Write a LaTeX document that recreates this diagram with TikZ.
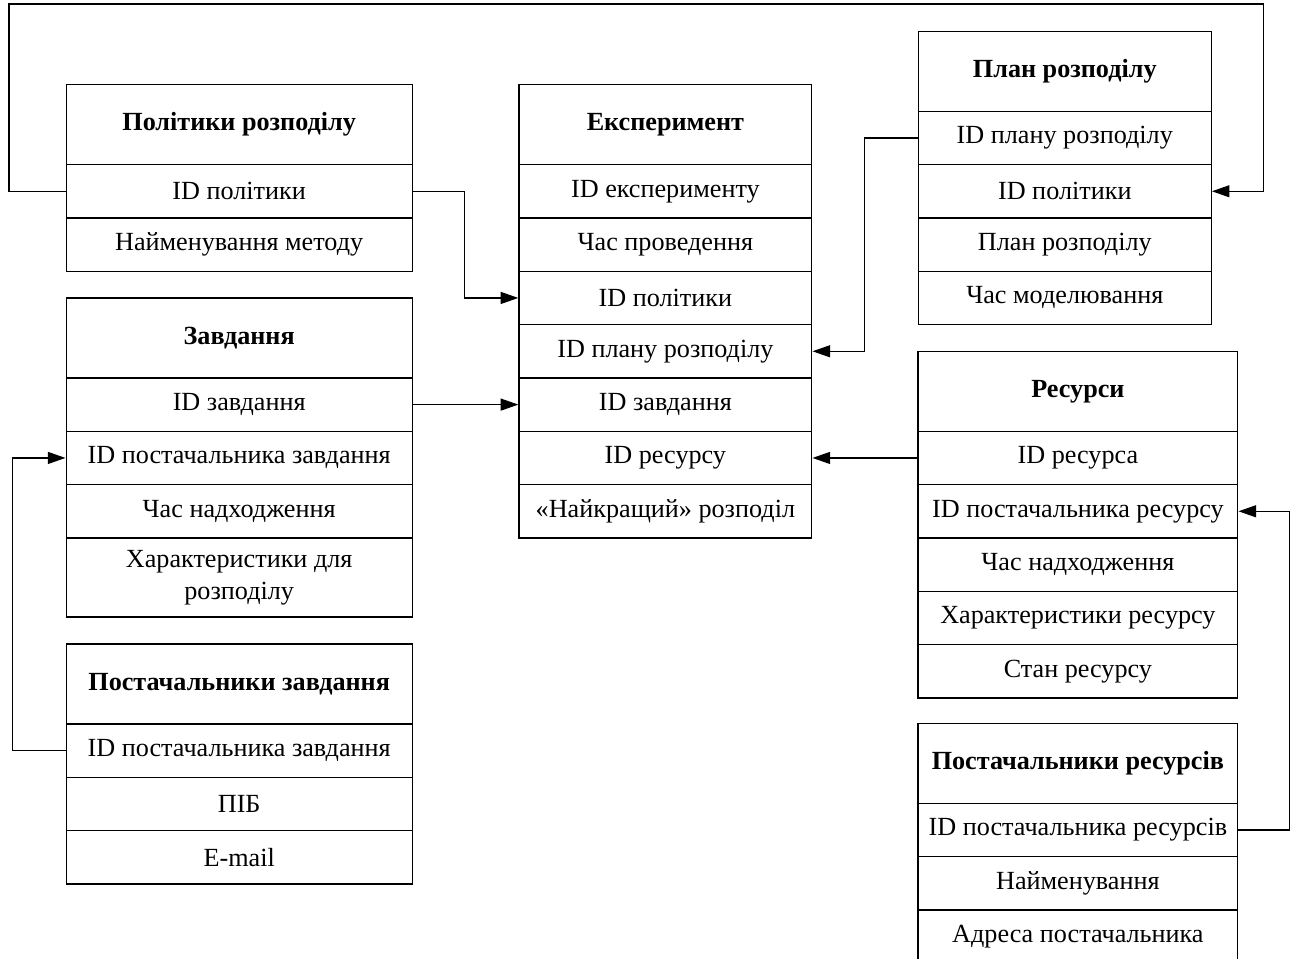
\documentclass[tikz,border=0pt]{standalone}
\usepackage{fontspec}
\setmainfont{Liberation Serif}
\usetikzlibrary{arrows.meta}
\begin{document}
\begin{tikzpicture}[x=0.02cm,y=-0.02cm]
\tikzset{
  cell/.style={draw, line width=0.7pt, anchor=north west, inner sep=0pt,
    align=center, font=\fontsize{14.9}{18.2}\selectfont},
  hd/.style={cell, font=\bfseries\fontsize{14.9}{18.2}\selectfont, minimum height=1.6cm},
  rw/.style={cell, minimum height=1.0667cm},
  rw2/.style={cell, minimum height=1.58cm},
  wide/.style={minimum width=6.924cm},
  mid/.style={minimum width=5.86cm},
  res/.style={minimum width=6.4cm},
  link/.style={line width=0.7pt, -{Triangle[length=10pt,width=6.8pt]}}
}
\useasboundingbox (0,0) rectangle (1290,959);
\clip (0,0) rectangle (1290,959);

% Політики розподілу
\node[hd,wide] (pol0) at (65.5,84) {Політики розподілу};
\node[rw,wide] (pol1) at (65.5,164) {ID політики};
\node[rw,wide] (pol2) at (65.5,217.33) {Найменування методу};

% Експеримент
\node[hd,mid] (e0) at (518.3,84) {Експеримент};
\node[rw,mid] (e1) at (518.3,164) {ID експерименту};
\node[rw,mid] (e2) at (518.3,217.33) {Час проведення};
\node[rw,mid] (e3) at (518.3,270.67) {ID політики};
\node[rw,mid] (e4) at (518.3,324) {ID плану розподілу};
\node[rw,mid] (e5) at (518.3,377.33) {ID завдання};
\node[rw,mid] (e6) at (518.3,430.67) {ID ресурсу};
\node[rw,mid] (e7) at (518.3,484) {«Найкращий» розподіл};

% План розподілу
\node[hd,mid] (pl0) at (917.7,30.7) {План розподілу};
\node[rw,mid] (pl1) at (917.7,110.7) {ID плану розподілу};
\node[rw,mid] (pl2) at (917.7,164) {ID політики};
\node[rw,mid] (pl3) at (917.7,217.33) {План розподілу};
\node[rw,mid] (pl4) at (917.7,270.67) {Час моделювання};

% Завдання
\node[hd,wide] (z0) at (65.5,297.33) {Завдання};
\node[rw,wide] (z1) at (65.5,377.33) {ID завдання};
\node[rw,wide] (z2) at (65.5,430.67) {ID постачальника завдання};
\node[rw,wide] (z3) at (65.5,484) {Час надходження};
\node[rw2,wide] (z4) at (65.5,537.33) {Характеристики для\\розподілу};

% Постачальники завдання
\node[hd,wide] (pz0) at (65.5,643.3) {Постачальники завдання};
\node[rw,wide] (pz1) at (65.5,723.3) {ID постачальника завдання};
\node[rw,wide] (pz2) at (65.5,776.63) {ПІБ};
\node[rw,wide] (pz3) at (65.5,829.97) {E-mail};

% Ресурси
\node[hd,res] (r0) at (917.3,350.67) {Ресурси};
\node[rw,res] (r1) at (917.3,430.67) {ID ресурса};
\node[rw,res] (r2) at (917.3,484) {ID постачальника ресурсу};
\node[rw,res] (r3) at (917.3,537.33) {Час надходження};
\node[rw,res] (r4) at (917.3,590.67) {Характеристики ресурсу};
\node[rw,res] (r5) at (917.3,644) {Стан ресурсу};

% Постачальники ресурсів
\node[hd,res] (pr0) at (917.3,722.7) {Постачальники ресурсів};
\node[rw,res] (pr1) at (917.3,802.7) {ID постачальника ресурсів};
\node[rw,res] (pr2) at (917.3,856.03) {Найменування};
\node[rw,res] (pr3) at (917.3,909.37) {Адреса постачальника};

% bend points of the connectors
\coordinate (a1) at (9,4);
\coordinate (a2) at (1263.7,4);
\coordinate (b1) at (464.3,250);
\coordinate (c1) at (864.3,250);
\coordinate (f1) at (12.3,600);
\coordinate (g1) at (1289.2,700);

% connectors
\draw[link] (pol1.west) -| (a1) -- (a2) |- (pl2.east);
\draw[link] (pol1.east) -| (b1) |- (e3.west);
\draw[link] (pl1.west) -| (c1) |- (e4.east);
\draw[link] (z1.east) -- (e5.west);
\draw[link] (r1.west) -- (e6.east);
\draw[link] (pz1.west) -| (f1) |- (z2.west);
\draw[link] (pr1.east) -| (g1) |- (r2.east);
\end{tikzpicture}
\end{document}
